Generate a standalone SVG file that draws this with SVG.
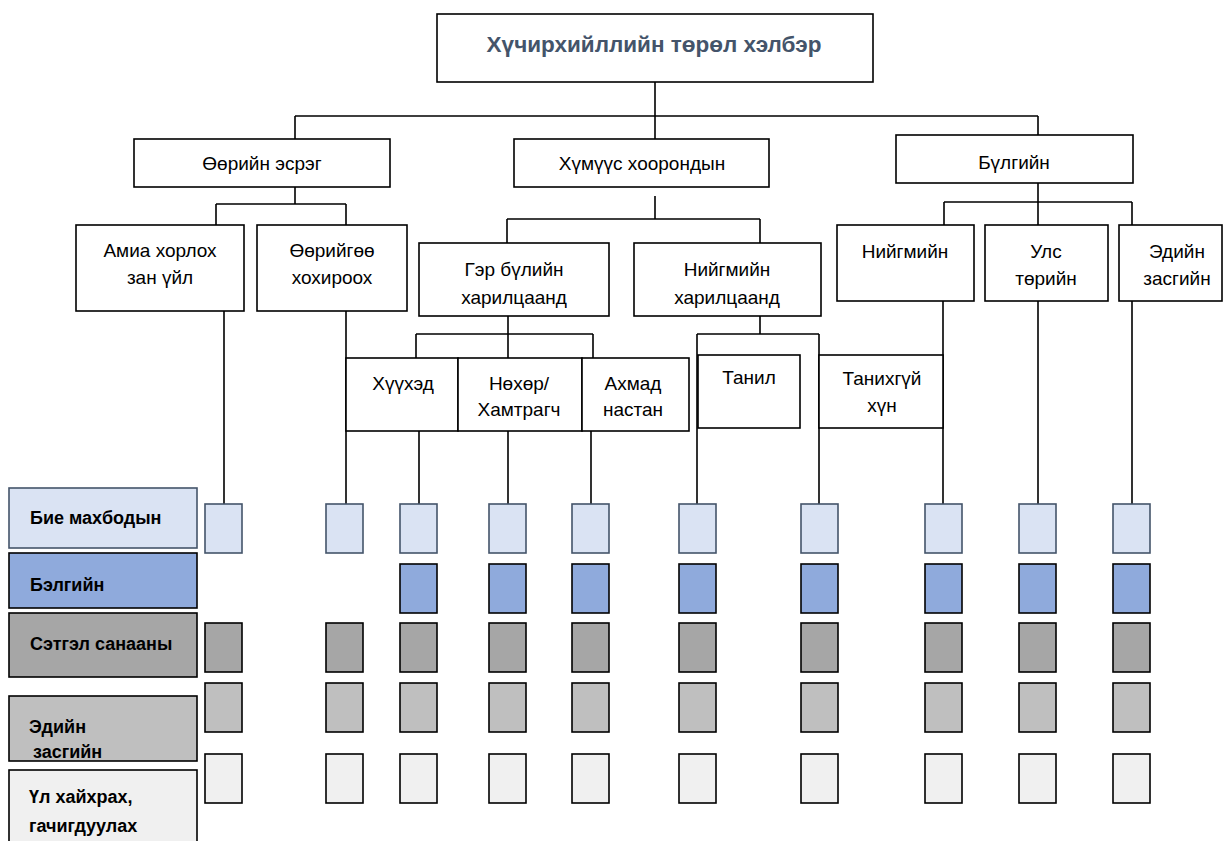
<svg xmlns="http://www.w3.org/2000/svg" width="1225" height="841" viewBox="0 0 1225 841">
<style>
.bg{fill:#ffffff}
.box{fill:#ffffff;stroke:#000;stroke-width:1.6}
.t{font-family:"Liberation Sans",Arial,sans-serif;font-size:19px;fill:#000;text-anchor:middle}
.title{font-family:"Liberation Sans",Arial,sans-serif;font-size:22.5px;font-weight:bold;fill:#44546A;text-anchor:middle}
.lt{font-family:"Liberation Sans",Arial,sans-serif;font-size:18px;font-weight:bold;fill:#000}
.conn path{fill:none;stroke:#000;stroke-width:1.6}
.bie{fill:#DAE3F3;stroke:#44546A;stroke-width:1.6}
.bel{fill:#8FAADC;stroke:#000;stroke-width:1.6}
.set{fill:#A6A6A6;stroke:#000;stroke-width:1.6}
.ed{fill:#BFBFBF;stroke:#000;stroke-width:1.6}
.ul{fill:#F0F0F0;stroke:#000;stroke-width:1.6}
</style>
<rect class="bg" x="0" y="0" width="1225" height="841"/>
<g id="connectors" class="conn">
<path d="M655,82V116M295,116H1038M295,116V139M655,116V139M1038,116V135"/>
<path d="M295,187V204M216,204H346M216,204V225M346,204V225"/>
<path d="M655,196V219M507,219H760M507,219V243M760,219V243"/>
<path d="M1038,183V202M944,202H1132M944,202V225M1038,202V225M1132,202V225"/>
<path d="M508,316V334M416,334H593M416,334V358M508,334V358M593,334V358"/>
<path d="M760,316V334M697,334H819M697,334V504M819,334V504"/>
<path d="M224,311V504M346,311V504"/>
<path d="M419,431V504M508,431V504M591,431V504"/>
<path d="M943,301V504M1038,301V504M1132,301V504"/>
</g>
<g id="n-root"><rect class="box" x="437" y="14" width="436" height="68"/><text class="title" x="654" y="52">Хүчирхийллийн төрөл хэлбэр</text></g>
<g id="n-self"><rect class="box" x="134" y="139" width="256" height="48"/><text class="t" x="262" y="170">Өөрийн эсрэг</text></g>
<g id="n-inter"><rect class="box" x="514" y="139" width="255" height="48"/><text class="t" x="642" y="170">Хүмүүс хоорондын</text></g>
<g id="n-group"><rect class="box" x="896" y="135" width="237" height="48"/><text class="t" x="1014" y="169">Бүлгийн</text></g>
<g id="n-suicide"><rect class="box" x="76" y="225" width="168" height="86"/><text class="t" x="160" y="257">Амиа хорлох</text><text class="t" x="160" y="284">зан үйл</text></g>
<g id="n-selfharm"><rect class="box" x="257" y="225" width="150" height="86"/><text class="t" x="332" y="257">Өөрийгөө</text><text class="t" x="332" y="284">хохироох</text></g>
<g id="n-family"><rect class="box" x="419" y="243" width="190" height="73"/><text class="t" x="514" y="276">Гэр бүлийн</text><text class="t" x="514" y="304">харилцаанд</text></g>
<g id="n-social"><rect class="box" x="634" y="243" width="187" height="73"/><text class="t" x="727" y="276">Нийгмийн</text><text class="t" x="727" y="304">харилцаанд</text></g>
<g id="n-g-social"><rect class="box" x="837" y="225" width="137" height="76"/><text class="t" x="905" y="258">Нийгмийн</text></g>
<g id="n-g-state"><rect class="box" x="985" y="225" width="123" height="76"/><text class="t" x="1046" y="258">Улс</text><text class="t" x="1046" y="285">төрийн</text></g>
<g id="n-g-econ"><rect class="box" x="1119" y="225" width="103" height="76"/><text class="t" x="1177" y="258">Эдийн</text><text class="t" x="1177" y="285">засгийн</text></g>
<g id="n-child"><rect class="box" x="346" y="358" width="112" height="73"/><text class="t" x="403" y="390">Хүүхэд</text></g>
<g id="n-partner"><rect class="box" x="458" y="358" width="124" height="73"/><text class="t" x="519" y="390">Нөхөр/</text><text class="t" x="519" y="416">Хамтрагч</text></g>
<g id="n-elder"><rect class="box" x="582" y="358" width="107" height="73"/><text class="t" x="633" y="390">Ахмад</text><text class="t" x="633" y="416">настан</text></g>
<g id="n-known"><rect class="box" x="698" y="355" width="102" height="73"/><text class="t" x="749" y="384">Танил</text></g>
<g id="n-unknown"><rect class="box" x="819" y="355" width="124" height="73"/><text class="t" x="882" y="385">Танихгүй</text><text class="t" x="882" y="412">хүн</text></g>
<g id="legend-bie"><rect class="bie" x="9" y="488" width="188" height="60"/><text class="lt" x="30" y="524">Бие махбодын</text></g>
<g id="legend-bel"><rect class="bel" x="9" y="553" width="188" height="55"/><text class="lt" x="30" y="591">Бэлгийн</text></g>
<g id="legend-set"><rect class="set" x="9" y="613" width="188" height="64"/><text class="lt" x="30" y="650">Сэтгэл санааны</text></g>
<g id="legend-ed"><rect class="ed" x="9" y="696" width="188" height="65"/><text class="lt" x="29" y="733">Эдийн</text><text class="lt" x="33" y="758">засгийн</text></g>
<g id="legend-ul"><rect class="ul" x="9" y="770" width="188" height="80"/><text class="lt" x="29" y="803">Үл хайхрах,</text><text class="lt" x="29" y="832">гачигдуулах</text></g>
<g id="cells-bie">
<rect class="bie" x="205" y="504" width="37" height="49"/><rect class="bie" x="326" y="504" width="37" height="49"/><rect class="bie" x="400" y="504" width="37" height="49"/><rect class="bie" x="489" y="504" width="37" height="49"/><rect class="bie" x="572" y="504" width="37" height="49"/><rect class="bie" x="679" y="504" width="37" height="49"/><rect class="bie" x="801" y="504" width="37" height="49"/><rect class="bie" x="925" y="504" width="37" height="49"/><rect class="bie" x="1019" y="504" width="37" height="49"/><rect class="bie" x="1113" y="504" width="37" height="49"/>
</g>
<g id="cells-bel">
<rect class="bel" x="400" y="564" width="37" height="49"/><rect class="bel" x="489" y="564" width="37" height="49"/><rect class="bel" x="572" y="564" width="37" height="49"/><rect class="bel" x="679" y="564" width="37" height="49"/><rect class="bel" x="801" y="564" width="37" height="49"/><rect class="bel" x="925" y="564" width="37" height="49"/><rect class="bel" x="1019" y="564" width="37" height="49"/><rect class="bel" x="1113" y="564" width="37" height="49"/>
</g>
<g id="cells-set">
<rect class="set" x="205" y="623" width="37" height="49"/><rect class="set" x="326" y="623" width="37" height="49"/><rect class="set" x="400" y="623" width="37" height="49"/><rect class="set" x="489" y="623" width="37" height="49"/><rect class="set" x="572" y="623" width="37" height="49"/><rect class="set" x="679" y="623" width="37" height="49"/><rect class="set" x="801" y="623" width="37" height="49"/><rect class="set" x="925" y="623" width="37" height="49"/><rect class="set" x="1019" y="623" width="37" height="49"/><rect class="set" x="1113" y="623" width="37" height="49"/>
</g>
<g id="cells-ed">
<rect class="ed" x="205" y="683" width="37" height="49"/><rect class="ed" x="326" y="683" width="37" height="49"/><rect class="ed" x="400" y="683" width="37" height="49"/><rect class="ed" x="489" y="683" width="37" height="49"/><rect class="ed" x="572" y="683" width="37" height="49"/><rect class="ed" x="679" y="683" width="37" height="49"/><rect class="ed" x="801" y="683" width="37" height="49"/><rect class="ed" x="925" y="683" width="37" height="49"/><rect class="ed" x="1019" y="683" width="37" height="49"/><rect class="ed" x="1113" y="683" width="37" height="49"/>
</g>
<g id="cells-ul">
<rect class="ul" x="205" y="754" width="37" height="49"/><rect class="ul" x="326" y="754" width="37" height="49"/><rect class="ul" x="400" y="754" width="37" height="49"/><rect class="ul" x="489" y="754" width="37" height="49"/><rect class="ul" x="572" y="754" width="37" height="49"/><rect class="ul" x="679" y="754" width="37" height="49"/><rect class="ul" x="801" y="754" width="37" height="49"/><rect class="ul" x="925" y="754" width="37" height="49"/><rect class="ul" x="1019" y="754" width="37" height="49"/><rect class="ul" x="1113" y="754" width="37" height="49"/>
</g>
</svg>
